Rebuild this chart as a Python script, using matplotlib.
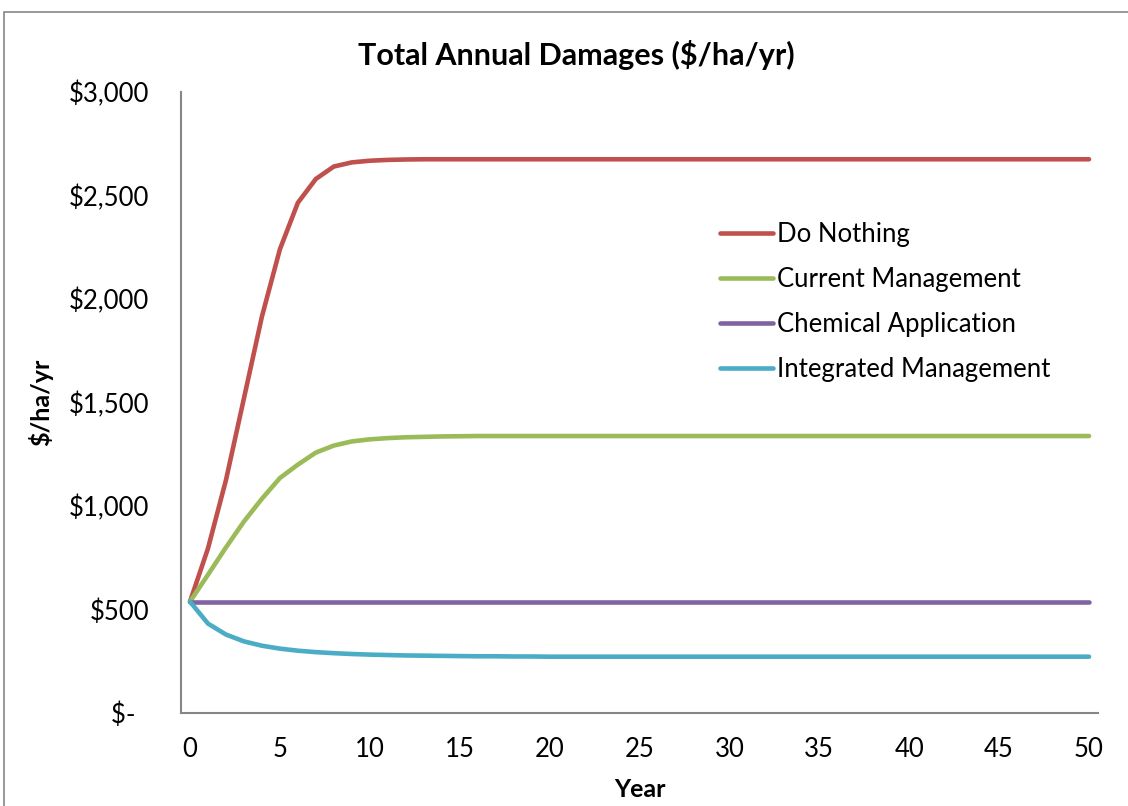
import numpy as np
import matplotlib.pyplot as plt
from matplotlib.patches import Rectangle

plt.rcParams['font.family'] = ['Lato', 'DejaVu Sans']

years = list(range(0, 51))

do_nothing = [538, 795, 1125, 1520, 1915, 2240, 2465, 2580, 2640, 2660,
              2668, 2672, 2674, 2675] + [2675] * 37
current_mgmt = [538, 668, 800, 925, 1035, 1135, 1200, 1258, 1292, 1312,
                1322, 1328, 1332, 1334, 1336, 1337] + [1338] * 35
chemical = [538] * 51
integrated = [538, 432, 379, 346, 325, 311, 301, 294, 289, 285,
              282, 280, 278, 277, 276, 275, 274, 274, 273, 273] + [272] * 31

series_names = ['Do Nothing', 'Current Management', 'Chemical Application', 'Integrated Management']
series_colors = ['#C0504D', '#9BBB59', '#8064A2', '#4BACC6']

y_ticks = [0, 500, 1000, 1500, 2000, 2500, 3000]
y_tick_labels = ['$-  ', '$500', '$1,000', '$1,500', '$2,000', '$2,500', '$3,000']

fig = plt.figure(figsize=(11.28, 8.06), dpi=100)
# outer chart border like excel
fig.patches.append(Rectangle((4 / 1128, -0.1), 1.2, 1 - 12 / 806 + 0.1,
                             transform=fig.transFigure, fill=False,
                             edgecolor='#868686', linewidth=1.2))

ax = fig.add_axes([181 / 1128, 1 - 713 / 806, (1098 - 181) / 1128, (713 - 92) / 806])

for data, name, col in zip([do_nothing, current_mgmt, chemical, integrated], series_names, series_colors):
    ax.plot(years, data, color=col, linewidth=3.3, label=name, solid_capstyle='round')

ax.set_xlim(-0.5, 50.5)
ax.set_ylim(0, 3000)
ax.set_xticks(range(0, 51, 5))
ax.set_yticks(y_ticks)
ax.set_yticklabels(y_tick_labels)
ax.tick_params(axis='both', length=0, labelsize=18.5)
ax.tick_params(axis='y', pad=23)
ax.tick_params(axis='x', pad=17)

for s in ['top', 'right']:
    ax.spines[s].set_visible(False)
for s in ['left', 'bottom']:
    ax.spines[s].set_color('#868686')
    ax.spines[s].set_linewidth(1.5)

fig.text(576 / 1128, 1 - 55 / 806, 'Total Annual Damages ($/ha/yr)', fontsize=22,
         fontweight='bold', ha='center', va='center')
ax.set_xlabel('Year', fontsize=18, fontweight='bold', labelpad=12)
ax.set_ylabel('$/ha/yr', fontsize=18, fontweight='bold', labelpad=11)

leg = ax.legend(loc='upper left', bbox_to_anchor=((720 - 181) / 917, (713 - 222) / 621),
                frameon=False, fontsize=18.5, handlelength=2.05, handletextpad=0.15,
                labelspacing=0.78, borderpad=0, borderaxespad=0)

fig.savefig('out.png', dpi=100)
